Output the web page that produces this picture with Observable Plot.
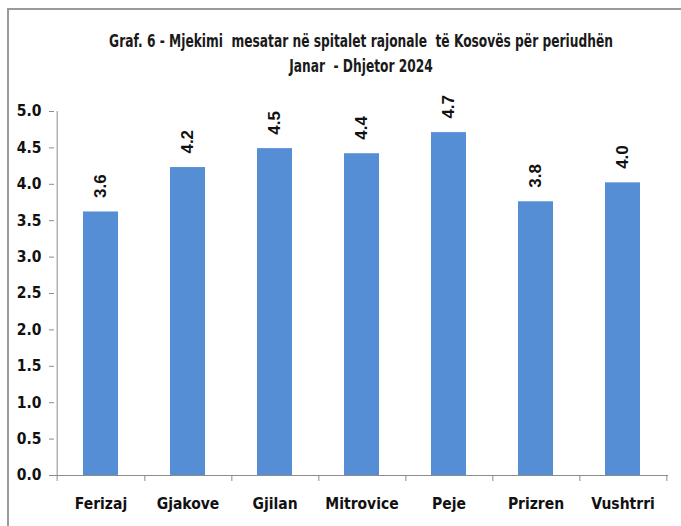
<!DOCTYPE html>
<html>
<head>
<meta charset="utf-8">
<script src="https://cdn.jsdelivr.net/npm/d3@7"></script>
<script src="https://cdn.jsdelivr.net/npm/@observablehq/plot@0.6"></script>
<style>
  body { margin: 0; background: #fff; }
  #wrap { position: relative; width: 681px; height: 526px; overflow: hidden; background: #fff; }
  #frame { position: absolute; left: 7px; top: 8px; width: 700px; height: 600px; border-left: 2px solid #9a9a9a; border-top: 2px solid #9a9a9a; box-sizing: border-box; }
  #title { position: absolute; left: 11px; width: 700px; top: 29px; text-align: center; white-space: nowrap;
    transform: scaleX(0.8); transform-origin: 350px 0;
    font-family: "DejaVu Sans Condensed", sans-serif; font-weight: bold; font-size: 17px; line-height: 25px; color: #1a1a1a; }
  #chart { position: absolute; left: 0; top: 0; }
</style>
</head>
<body>
<div id="wrap">
  <div id="frame"></div>
  <div id="chart"></div>
  <div id="title">Graf. 6 - Mjekimi&nbsp; mesatar në spitalet rajonale&nbsp; të Kosovës për periudhën<br>Janar&nbsp; - Dhjetor 2024</div>
</div>
<script>
const categories = ["Ferizaj", "Gjakove", "Gjilan", "Mitrovice", "Peje", "Prizren", "Vushtrri"];
const values = [3.62, 4.23, 4.49, 4.42, 4.71, 3.76, 4.02];
const yTicks = [0, 0.5, 1, 1.5, 2, 2.5, 3, 3.5, 4, 4.5, 5];

const data = categories.map((c, i) => ({category: c, value: values[i]}));

const W = 681, H = 526;
const mL = 54, mR = 13, mT = 111, mB = 51;
const step = (W - mL - mR) / categories.length;
const axisColor = "#8c8c8c";
const narrow = "'DejaVu Sans Condensed', sans-serif";

const plot = Plot.plot({
  width: W, height: H,
  marginLeft: mL, marginRight: mR, marginTop: mT, marginBottom: mB,
  style: {background: "transparent", fontFamily: narrow, color: "#111"},
  x: {domain: categories, paddingInner: 0.6, paddingOuter: 0.3, label: null},
  y: {domain: [0, 5], label: null},
  marks: [
    Plot.barY(data, {x: "category", y: "value", fill: "#558ED5"}),
    // y axis line
    Plot.ruleX([categories[0]], {x: d => d, dx: -step / 2, y1: 0, y2: 5, stroke: axisColor}),
    // x axis line
    Plot.ruleY([0], {stroke: axisColor}),
    // category boundary ticks
    Plot.ruleX(categories, {x: d => d, dx: step / 2, y1: 0, y2: 0, insetBottom: -6, stroke: axisColor}),
    Plot.ruleX([categories[0]], {x: d => d, dx: -step / 2, y1: 0, y2: 0, insetBottom: -6, stroke: axisColor}),
    Plot.axisY({ticks: yTicks, tickFormat: d => d.toFixed(1), tickSize: 5, tickPadding: 8,
      stroke: axisColor, fontSize: 15.5, fontWeight: "bold", fill: "#111", label: null}),
    Plot.axisX({tickSize: 0, tickPadding: 22, fontSize: 15.5, fontWeight: "bold", fill: "#111", label: null}),
    Plot.text(data, {x: "category", y: "value", text: d => d.value.toFixed(1), rotate: -90,
      textAnchor: "start", dy: -14, fontSize: 17, fontWeight: "bold",
      fontFamily: "'Liberation Sans', Arial, sans-serif", fill: "#111"})
  ]
});
document.getElementById("chart").appendChild(plot);
</script>
</body>
</html>
